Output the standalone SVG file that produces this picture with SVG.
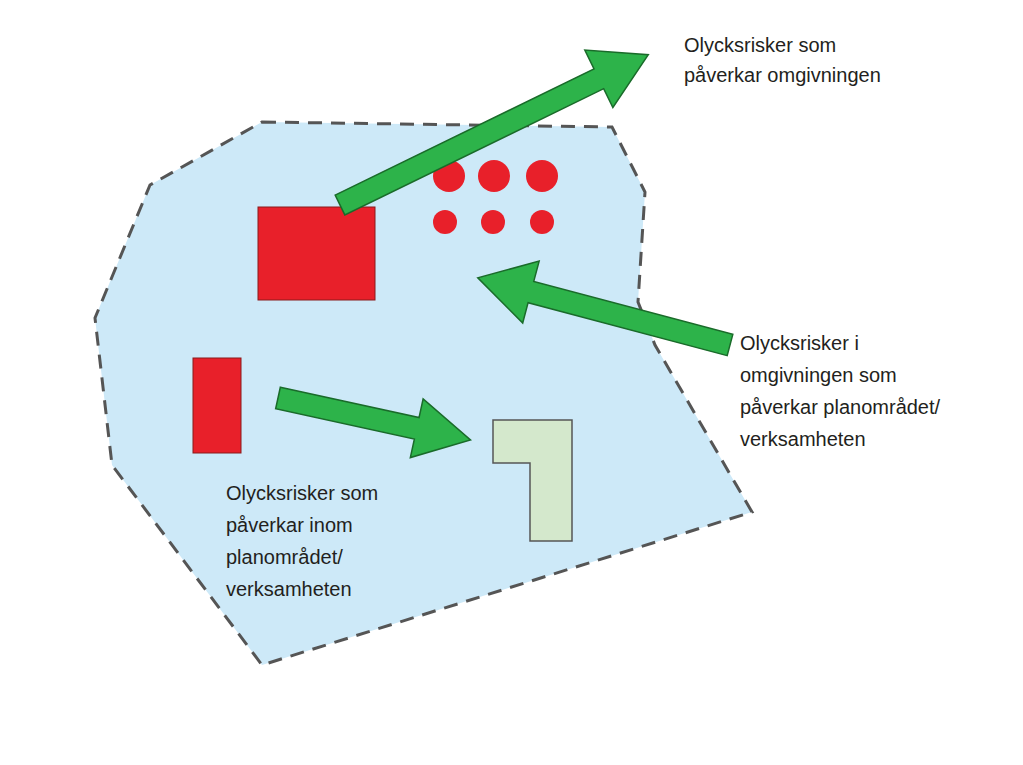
<svg xmlns="http://www.w3.org/2000/svg" width="1023" height="765" viewBox="0 0 1023 765">
<style>
.t{font-family:"Liberation Sans Narrow","Liberation Sans",sans-serif;font-size:20px;fill:#231f20}
.ar{fill:#2db34a;stroke:#1a6b2a;stroke-width:1.5}
.red{fill:#e8202a;stroke:#8a1a1a;stroke-width:1}
</style>
<rect width="1023" height="765" fill="#fff"/>
<g id="area"><polygon points="262,122 612,127 645,192 638,302 655,345 752,512 262,665 112,465 95,318 150,185" fill="#cde9f8" stroke="#555" stroke-width="3" stroke-dasharray="14,9"/></g>
<g id="rect1"><rect class="red" x="258" y="207" width="117" height="93"/></g>
<g id="rect2"><rect class="red" x="193" y="358" width="48" height="95"/></g>
<g id="circles">
<circle cx="449" cy="176" r="16" fill="#e8202a"/><circle cx="494" cy="176" r="16" fill="#e8202a"/><circle cx="542" cy="176" r="16" fill="#e8202a"/>
<circle cx="445" cy="222" r="12" fill="#e8202a"/><circle cx="493" cy="222" r="12" fill="#e8202a"/><circle cx="542" cy="222" r="12" fill="#e8202a"/>
</g>
<g id="lshape"><polygon points="493,420 572,420 572,541 530,541 530,463 493,463" fill="#d4e8cc" stroke="#555" stroke-width="1.5"/></g>
<g id="connectors">
<polygon class="ar" transform="translate(340,205) rotate(-26)" points="0,-11 288,-11 288,-32 343,0 288,32 288,11 0,11"/>
<polygon class="ar" transform="translate(730,345) rotate(194.9)" points="0,-11 206,-11 206,-32 261,0 206,32 206,11 0,11"/>
<polygon class="ar" transform="translate(278,398) rotate(12.3)" points="0,-11 142,-11 142,-30 197,0 142,30 142,11 0,11"/>
</g>
<g id="label1"><text class="t" x="684" y="52">Olycksrisker som</text><text class="t" x="684" y="82">påverkar omgivningen</text></g>
<g id="label2"><text class="t" x="740" y="350">Olycksrisker i</text><text class="t" x="740" y="382">omgivningen som</text><text class="t" x="740" y="414">påverkar planområdet/</text><text class="t" x="740" y="446">verksamheten</text></g>
<g id="label3"><text class="t" x="226" y="500">Olycksrisker som</text><text class="t" x="226" y="532">påverkar inom</text><text class="t" x="226" y="564">planområdet/</text><text class="t" x="226" y="596">verksamheten</text></g>
</svg>
